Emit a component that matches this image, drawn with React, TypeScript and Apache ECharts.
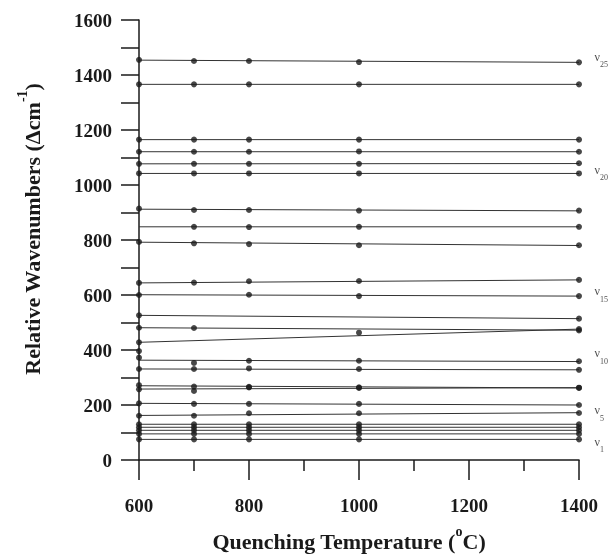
import React, { useEffect, useRef } from "react";
import * as echarts from "echarts";

const temps = [600, 700, 800, 1000, 1400];

// observed wavenumbers per mode at the temperatures above (null = no point)
const m01 = [75, 75, 75, 75, 75];
const m02 = [95, 95, 95, 95, 95];
const m03 = [108, 108, 108, 108, 108];
const m04 = [119, 119, 119, 119, 119];
const m05 = [130, 130, 130, 130, 130];
const m06 = [161, 161, 170, 170, 171];
const m07 = [206, 204, 204, 204, 200];
const m08 = [257, 251, 264, 262, 262];
const m09 = [272, 267, 266, 264, 263];
const m10 = [331, 331, 333, 331, 328];
const m11 = [372, 353, 361, 361, 359];
const m12 = [396, null, null, null, null];
const m13 = [428, null, null, null, 476];
const m14 = [481, 480, null, 463, 471];
const m15 = [526, null, null, null, 514];
const m16 = [600, null, 601, 596, 596];
const m17 = [644, 645, 650, 651, 655];
const m18 = [793, 788, 785, 781, 781];
const m19 = [null, 848, 847, 848, 848];
const m20 = [914, 909, 909, 907, 907];
const m21 = [1042, 1042, 1042, 1042, 1042];
const m22 = [1077, 1077, 1077, 1077, 1079];
const m23 = [1121, 1121, 1121, 1122, 1121];
const m24 = [1165, 1165, 1165, 1165, 1165];
const m25 = [1366, 1366, 1366, 1366, 1366];
const m26 = [1455, 1451, 1451, 1447, 1446];

const modes = [m01, m02, m03, m04, m05, m06, m07, m08, m09, m10, m11, m12, m13,
  m14, m15, m16, m17, m18, m19, m20, m21, m22, m23, m24, m25, m26];

// fitted line values at 600 and 1400 (null = no line)
const fitStart = [75, 95, 108, 119, 130, 162, 206, 258, 270, 331, 363, null, 428,
  481, 526, 601, 644, 792, 848, 912, 1042, 1077, 1121, 1165, 1366, 1454];
const fitEnd = [75, 95, 108, 119, 130, 172, 200, 263, 262, 328, 358, null, 476,
  472, 514, 596, 655, 780, 848, 906, 1042, 1078, 1121, 1165, 1366, 1446];

const labelSubs = ["1", "5", "10", "15", "20", "25"];
const labelValues = [55, 170, 378, 602, 1044, 1456];

const yTicks = [0, 1600, 200];
const xTicks = [600, 1400, 200];

const SERIF = "'Liberation Serif', 'DejaVu Serif', serif";
const INK = "#1a1a1a";

export default function App() {
  const ref = useRef<HTMLDivElement>(null);
  useEffect(() => {
    if (!ref.current) return;
    const chart = echarts.init(ref.current, undefined, { renderer: "svg" });
    const series: any[] = [];
    modes.forEach((m, i) => {
      if (fitStart[i] != null) {
        series.push({
          type: "line",
          data: [[temps[0], fitStart[i]], [temps[temps.length - 1], fitEnd[i]]],
          showSymbol: false,
          symbol: "none",
          lineStyle: { color: "#333", width: 1 },
          silent: true,
          z: 2,
        });
      }
      series.push({
        type: "scatter",
        data: m.map((v, j) => (v == null ? null : [temps[j], v])).filter((d) => d),
        symbol: "circle",
        symbolSize: 6,
        itemStyle: { color: INK },
        z: 3,
      });
    });
    series.push({
      type: "scatter",
      data: labelValues.map((v) => [temps[temps.length - 1], v]),
      symbol: "circle",
      symbolSize: 1,
      itemStyle: { color: "rgba(0,0,0,0)" },
      label: {
        show: true,
        position: "right",
        distance: 15,
        formatter: (p: any) => `{n|ν}{s|${labelSubs[p.dataIndex]}}`,
        rich: {
          n: { fontSize: 12, fontFamily: SERIF, color: INK, verticalAlign: "top", lineHeight: 12 },
          s: { fontSize: 8, fontFamily: SERIF, color: INK, verticalAlign: "bottom", lineHeight: 18 },
        },
      },
      z: 4,
    });

    const rich = {
      b: { fontSize: 22, fontWeight: "bold", fontFamily: SERIF, fill: INK, color: INK, verticalAlign: "bottom", lineHeight: 28 },
      u: { fontSize: 14, fontWeight: "bold", fontFamily: SERIF, fill: INK, color: INK, verticalAlign: "top", lineHeight: 15 },
    };

    chart.setOption({
      animation: false,
      grid: { left: 139, right: 34, top: 20, bottom: 95, containLabel: false },
      xAxis: {
        type: "value",
        min: xTicks[0],
        max: xTicks[1],
        interval: xTicks[2],
        axisLine: { show: true, lineStyle: { color: INK, width: 1.5 } },
        axisTick: { show: true, length: 20, lineStyle: { color: INK, width: 1.5 } },
        minorTick: { show: true, splitNumber: 2, length: 11, lineStyle: { color: INK, width: 1.5 } },
        splitLine: { show: false },
        axisLabel: { fontSize: 19, fontWeight: "bold", fontFamily: SERIF, color: INK, margin: 36, formatter: (v: number) => String(v) },
      },
      yAxis: {
        type: "value",
        min: yTicks[0],
        max: yTicks[1],
        interval: yTicks[2],
        axisLine: { show: true, lineStyle: { color: INK, width: 1.5 } },
        axisTick: { show: true, length: 18, lineStyle: { color: INK, width: 1.5 } },
        minorTick: { show: true, splitNumber: 2, length: 18, lineStyle: { color: INK, width: 1.5 } },
        splitLine: { show: false },
        axisLabel: { fontSize: 19, fontWeight: "bold", fontFamily: SERIF, color: INK, margin: 27, formatter: (v: number) => String(v) },
      },
      graphic: [
        {
          type: "text",
          x: 29,
          y: 229,
          rotation: Math.PI / 2,
          style: {
            text: "{b|Relative Wavenumbers (Δcm}{u|-1}{b|)}",
            align: "center",
            verticalAlign: "middle",
            rich,
          },
        },
        {
          type: "text",
          x: 349,
          y: 538,
          style: {
            text: "{b|Quenching Temperature (}{u|o}{b|C)}",
            align: "center",
            verticalAlign: "middle",
            rich,
          },
        },
      ],
      series,
    });
    return () => chart.dispose();
  }, []);
  return <div ref={ref} style={{ position: "fixed", left: 0, top: 0, width: 613, height: 555 }} />;
}
